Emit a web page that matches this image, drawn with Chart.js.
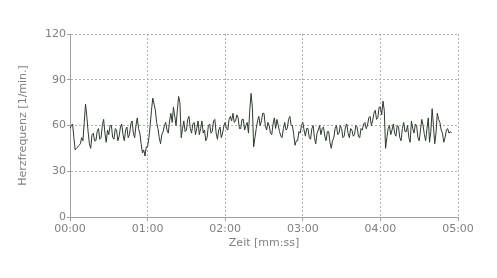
<!DOCTYPE html>
<html>
<head>
<meta charset="utf-8">
<script src="https://cdn.jsdelivr.net/npm/chart.js@4"></script>
<style>
  html, body { margin: 0; padding: 0; background: #fff; }
  #wrap { width: 497px; height: 278px; }
</style>
</head>
<body>
<div id="wrap"><canvas id="hrChart" width="497" height="278"></canvas></div>
<script>
// Heart rate samples, one per second
const stepSeconds = 1;
const heartRate = [
    58, 60, 61, 52, 44, 45, 46, 47, 48, 52, 50, 62, 74, 66, 56, 48, 45, 54, 55, 50,
    50, 56, 58, 51, 52, 60, 64, 55, 49, 57, 54, 60, 60, 52, 51, 58, 57, 50, 53, 59,
    61, 54, 50, 57, 59, 52, 54, 61, 63, 55, 52, 60, 65, 58, 55, 48, 42, 44, 40, 46,
    46, 52, 60, 70, 78, 74, 70, 62, 58, 52, 48, 54, 56, 60, 62, 57, 55, 63, 68, 62,
    72, 66, 60, 70, 79, 75, 52, 58, 63, 56, 57, 64, 66, 58, 55, 61, 62, 54, 58, 63,
    54, 58, 63, 55, 57, 50, 52, 60, 61, 55, 56, 63, 64, 55, 51, 57, 59, 52, 55, 60,
    62, 58, 57, 64, 66, 63, 68, 62, 63, 67, 65, 58, 58, 64, 64, 57, 60, 62, 55, 70,
    81, 72, 46, 52, 58, 63, 66, 60, 63, 68, 68, 60, 57, 62, 60, 55, 54, 61, 65, 58,
    64, 60, 56, 53, 52, 58, 62, 57, 58, 64, 66, 60, 60, 54, 47, 50, 50, 56, 55, 60,
    62, 57, 53, 58, 58, 52, 51, 58, 60, 52, 48, 55, 57, 60, 54, 58, 59, 53, 50, 56,
    56, 49, 45, 50, 52, 58, 60, 54, 55, 60, 58, 52, 53, 59, 61, 55, 52, 58, 57, 53,
    54, 60, 59, 53, 52, 58, 57, 61, 62, 58, 60, 65, 66, 60, 63, 68, 70, 64, 65, 72,
    72, 67, 76, 70, 45, 52, 58, 60, 54, 57, 61, 55, 53, 60, 59, 52, 50, 58, 62, 56,
    56, 60, 52, 49, 63, 58, 55, 61, 60, 52, 50, 57, 64, 60, 54, 50, 58, 65, 49, 56,
    71, 60, 48, 55, 68, 64, 62, 57, 55, 49, 52, 57, 58, 55, 56, 55
];
const timeTickLabels = ['00:00', '01:00', '02:00', '03:00', '04:00', '05:00'];
const yTicks = [0, 30, 60, 90, 120];

const points = heartRate.map((v, i) => ({ x: i * stepSeconds, y: v }));

const tickFont = { family: 'DejaVu Sans', size: 11 };
const gridColor = '#b0b0b0';
const axisColor = '#a0a0a0';
const textColor = '#808080';

const ctx = document.getElementById('hrChart').getContext('2d');
new Chart(ctx, {
    type: 'line',
    data: {
        datasets: [{
            data: points,
            borderColor: '#2e3b2e',
            borderWidth: 1,
            pointRadius: 0,
            tension: 0,
            fill: false
        }]
    },
    options: {
        responsive: false,
        animation: false,
        layout: { padding: { top: 34, right: 39, left: 0, bottom: 0 } },
        plugins: { legend: { display: false }, tooltip: { enabled: false } },
        scales: {
            x: {
                type: 'linear',
                min: 0,
                max: 300,
                afterBuildTicks: (scale) => {
                    scale.ticks = timeTickLabels.map((_, i) => ({ value: i * 60 }));
                },
                afterFit: (scale) => { scale.height = 61; },
                ticks: {
                    color: textColor,
                    font: tickFont,
                    padding: 2,
                    maxRotation: 0,
                    callback: (v) => timeTickLabels[Math.round(v / 60)]
                },
                grid: { color: gridColor, tickLength: 4, tickColor: axisColor },
                border: { color: axisColor, dash: [2, 2] },
                title: {
                    display: true,
                    text: 'Zeit [mm:ss]',
                    color: textColor,
                    font: tickFont,
                    padding: { top: 0, bottom: 28 }
                }
            },
            y: {
                min: 0,
                max: 120,
                afterBuildTicks: (scale) => {
                    scale.ticks = yTicks.map(v => ({ value: v }));
                },
                afterFit: (scale) => { scale.width = 70; },
                ticks: { color: textColor, font: tickFont, padding: 1 },
                grid: { color: gridColor, tickLength: 3, tickColor: axisColor },
                border: { color: axisColor, dash: [2, 2] },
                title: {
                    display: true,
                    text: 'Herzfrequenz [1/min.]',
                    color: textColor,
                    font: tickFont,
                    padding: { top: 17, bottom: 0 }
                }
            }
        }
    }
});
</script>
</body>
</html>
